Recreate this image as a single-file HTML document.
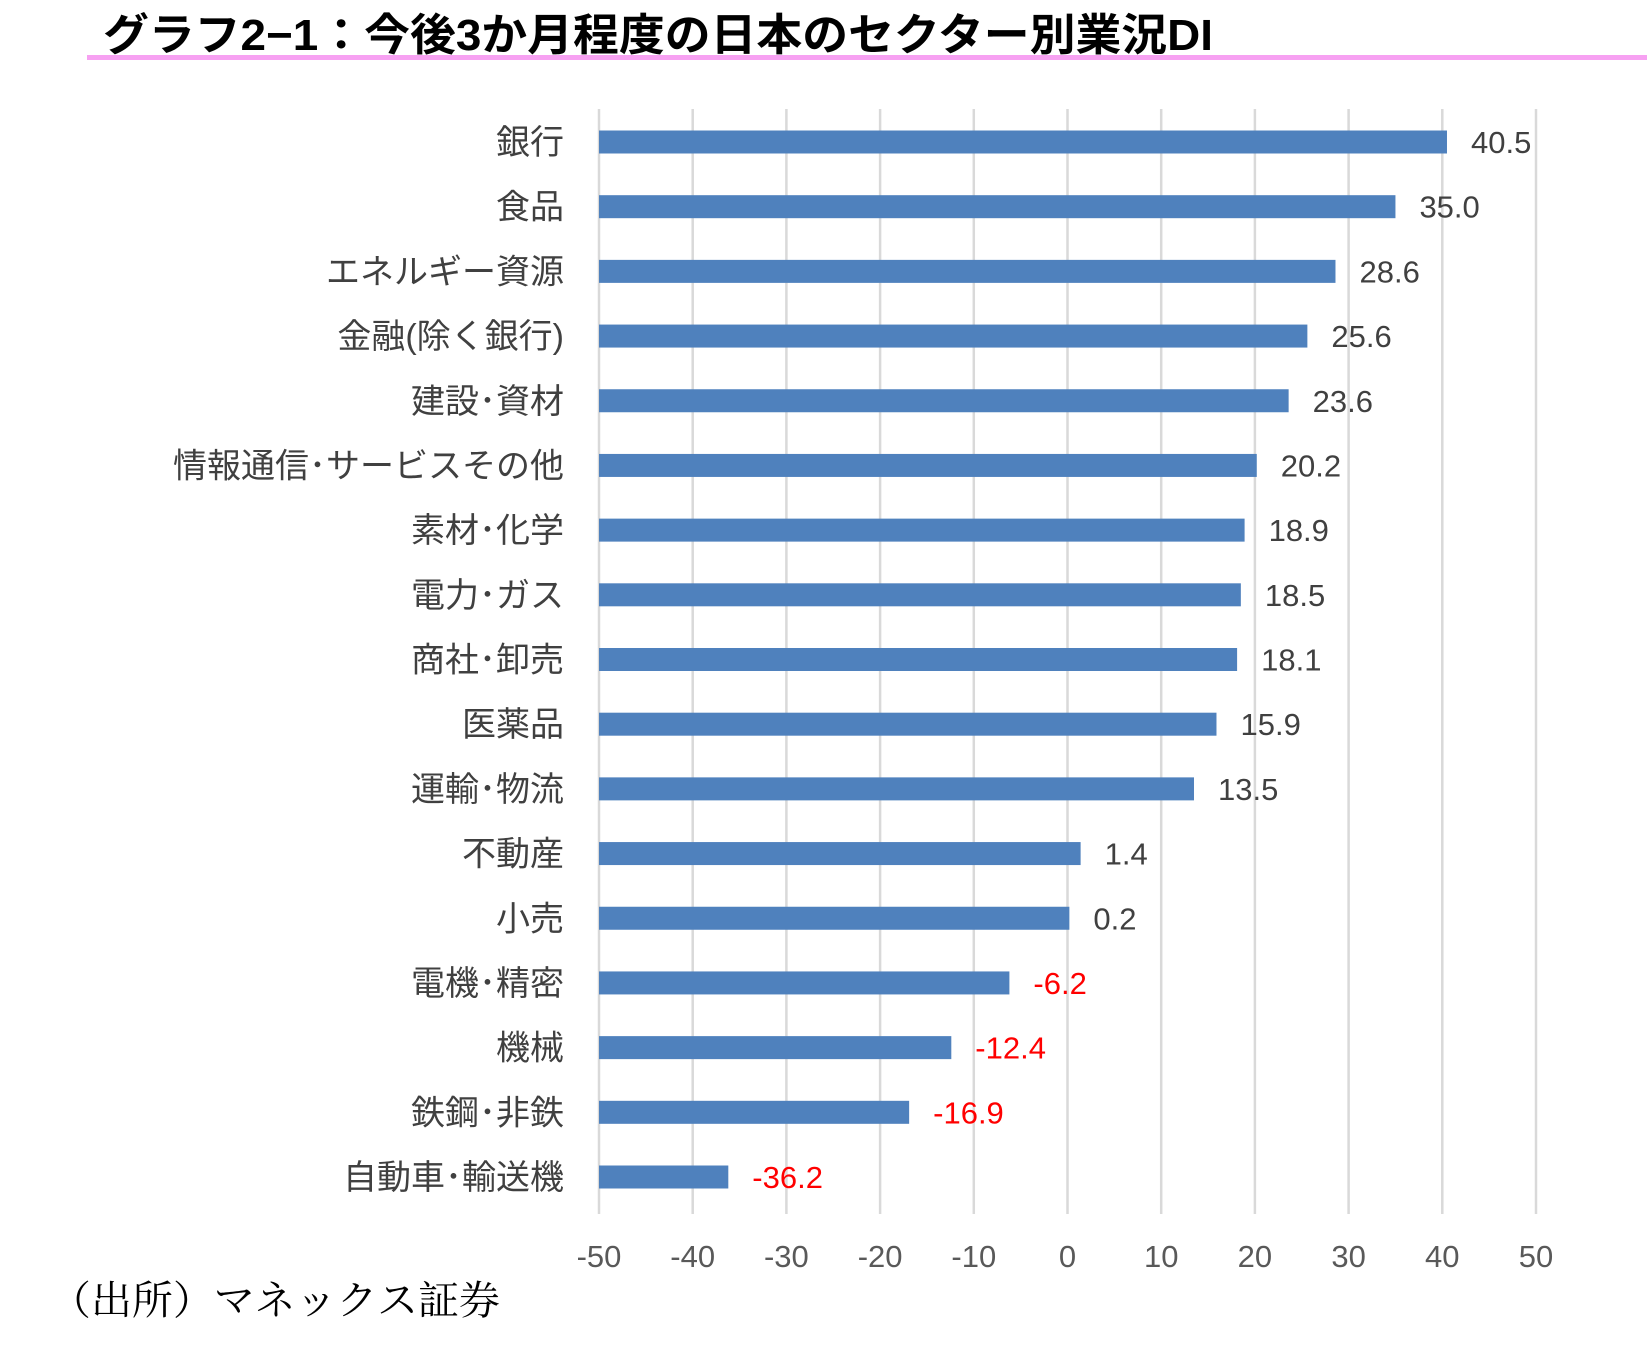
<!DOCTYPE html>
<html><head><meta charset="utf-8">
<style>
html,body{margin:0;padding:0;background:#fff;}
svg{display:block;}
</style></head>
<body>
<svg id="chart" width="1647" height="1350" viewBox="0 0 1647 1350" xmlns="http://www.w3.org/2000/svg">
  <text x="103" y="50" font-family="'Liberation Sans','Noto Sans CJK JP',sans-serif" font-weight="bold" font-size="44" fill="#000" textLength="1110" lengthAdjust="spacingAndGlyphs">グラフ2−1：今後3か月程度の日本のセクター別業況DI</text>
  <rect x="87" y="55" width="1560" height="5" fill="#f7a1f2"/>
  <g id="grid"></g>
  <g id="bars"></g>
  <g id="ticks"></g>
  <text x="50" y="1314" font-family="'Liberation Serif','Noto Serif CJK SC',serif" font-size="40" fill="#000" textLength="450" lengthAdjust="spacingAndGlyphs">（出所）マネックス証券</text>
</svg>
<script>
const categories = ["銀行","食品","エネルギー資源","金融(除く銀行)","建設･資材","情報通信･サービスその他","素材･化学","電力･ガス","商社･卸売","医薬品","運輸･物流","不動産","小売","電機･精密","機械","鉄鋼･非鉄","自動車･輸送機"];
const values = [40.5,35.0,28.6,25.6,23.6,20.2,18.9,18.5,18.1,15.9,13.5,1.4,0.2,-6.2,-12.4,-16.9,-36.2];
const tickValues = [-50,-40,-30,-20,-10,0,10,20,30,40,50];
const axisMin = -50, axisMax = 50;

const NS = "http://www.w3.org/2000/svg";
const x0 = 599, x1 = 1536, yTop = 109, yBot = 1214;
const firstY = 142, rowStep = (1177 - 142) / (categories.length - 1), barH = 23;
function xScale(v){ return x0 + (v - axisMin) / (axisMax - axisMin) * (x1 - x0); }
function yScale(i){ return firstY + i * rowStep; }
function mk(tag, attrs, parent){ const e = document.createElementNS(NS, tag); for (const k in attrs) e.setAttribute(k, attrs[k]); parent.appendChild(e); return e; }

const grid = document.getElementById('grid');
const ticks = document.getElementById('ticks');
tickValues.forEach(t => {
  const l = mk('line', {x1: xScale(t), x2: xScale(t), y1: yTop, y2: yBot, stroke: '#d9d9d9', 'stroke-width': 2.5}, grid);
  
  
  const tx = mk('text', {x: xScale(t), y: 1267, 'text-anchor': 'middle', 'font-family': "'Liberation Sans',sans-serif", 'font-size': 31, fill: '#595959'}, ticks);
  tx.textContent = String(t);
  
  
});

const bars = document.getElementById('bars');
categories.forEach((c, i) => {
  const v = values[i];
  const y = yScale(i);
  const lab = mk('text', {x: 564, y: y + 12, 'text-anchor': 'end', 'font-family': "'Liberation Sans','Noto Sans CJK JP',sans-serif", 'font-size': 34, fill: '#404040'}, bars);
  lab.textContent = c;
  
  
  const r = mk('rect', {x: xScale(axisMin), y: y - barH / 2, width: xScale(v) - xScale(axisMin), height: barH, fill: '#4f81bd'}, bars);
  
  
  const vl = mk('text', {x: xScale(v) + 24, y: y + 11, 'font-family': "'Liberation Sans',sans-serif", 'font-size': 31, fill: v < 0 ? '#ff0000' : '#404040'}, bars);
  vl.textContent = v.toFixed(1);
  
  
});
</script>
</body></html>
